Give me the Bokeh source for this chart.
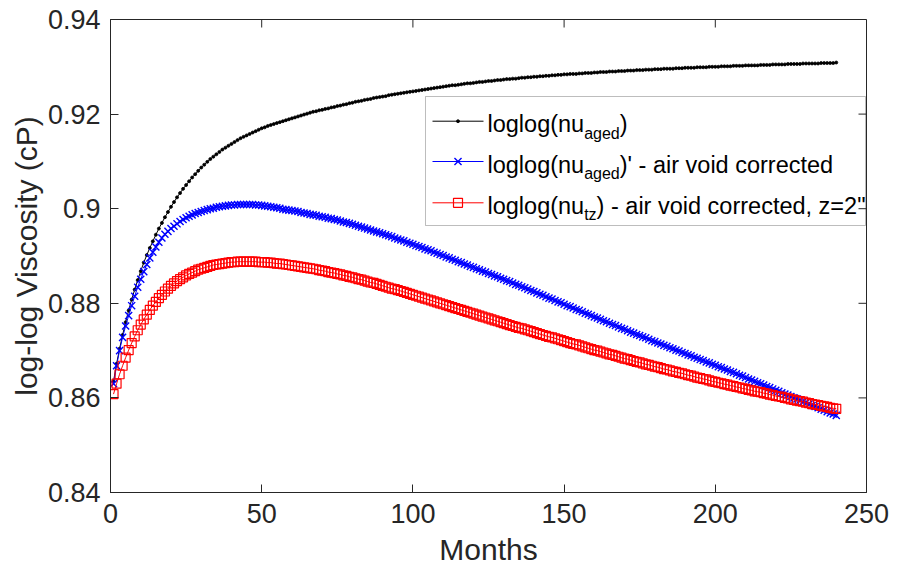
from bokeh.plotting import figure
from bokeh.models import Range1d, FixedTicker, Label, BoxAnnotation
from bokeh.embed import file_html
from bokeh.resources import INLINE

# ---------------- data ----------------
months = list(range(1, 241))

loglog_aged = [
    0.8635, 0.8672, 0.8704, 0.8733, 0.8760, 0.8785, 0.8808, 0.8829, 0.8849, 0.8868,
    0.8886, 0.8902, 0.8917, 0.8931, 0.8945, 0.8958, 0.8970, 0.8982, 0.8993, 0.9004,
    0.9014, 0.9024, 0.9033, 0.9042, 0.9050, 0.9058, 0.9066, 0.9073, 0.9080, 0.9087,
    0.9093, 0.9099, 0.9105, 0.9110, 0.9115, 0.9120, 0.9125, 0.9129, 0.9133, 0.9137,
    0.9141, 0.9145, 0.9149, 0.9152, 0.9155, 0.9158, 0.9161, 0.9164, 0.9167, 0.9170,
    0.9172, 0.9175, 0.9177, 0.9179, 0.9181, 0.9183, 0.9185, 0.9187, 0.9189, 0.9191,
    0.9193, 0.9195, 0.9197, 0.9199, 0.9201, 0.9203, 0.9205, 0.9206, 0.9208, 0.9209,
    0.9211, 0.9212, 0.9214, 0.9215, 0.9217, 0.9218, 0.9220, 0.9221, 0.9223, 0.9224,
    0.9226, 0.9227, 0.9228, 0.9230, 0.9231, 0.9232, 0.9234, 0.9235, 0.9236, 0.9237,
    0.9238, 0.9240, 0.9241, 0.9242, 0.9243, 0.9244, 0.9245, 0.9246, 0.9247, 0.9248,
    0.9249, 0.9250, 0.9251, 0.9252, 0.9253, 0.9254, 0.9255, 0.9256, 0.9257, 0.9258,
    0.9259, 0.9260, 0.9261, 0.9261, 0.9262, 0.9263, 0.9264, 0.9265, 0.9265, 0.9266,
    0.9267, 0.9268, 0.9268, 0.9269, 0.9270, 0.9270, 0.9271, 0.9272, 0.9272, 0.9273,
    0.9274, 0.9274, 0.9275, 0.9275, 0.9276, 0.9277, 0.9277, 0.9278, 0.9278, 0.9279,
    0.9279, 0.9280, 0.9280, 0.9281, 0.9281, 0.9282, 0.9282, 0.9283, 0.9283, 0.9284,
    0.9284, 0.9285, 0.9285, 0.9285, 0.9286, 0.9286, 0.9287, 0.9287, 0.9287, 0.9288,
    0.9288, 0.9289, 0.9289, 0.9289, 0.9290, 0.9290, 0.9290, 0.9291, 0.9291, 0.9291,
    0.9292, 0.9292, 0.9292, 0.9293, 0.9293, 0.9293, 0.9294, 0.9294, 0.9294, 0.9295,
    0.9295, 0.9295, 0.9296, 0.9296, 0.9296, 0.9296, 0.9297, 0.9297, 0.9297, 0.9298,
    0.9298, 0.9298, 0.9298, 0.9299, 0.9299, 0.9299, 0.9299, 0.9300, 0.9300, 0.9300,
    0.9300, 0.9301, 0.9301, 0.9301, 0.9301, 0.9302, 0.9302, 0.9302, 0.9302, 0.9303,
    0.9303, 0.9303, 0.9303, 0.9303, 0.9304, 0.9304, 0.9304, 0.9304, 0.9305, 0.9305,
    0.9305, 0.9305, 0.9305, 0.9306, 0.9306, 0.9306, 0.9306, 0.9306, 0.9307, 0.9307,
    0.9307, 0.9307, 0.9307, 0.9307, 0.9308, 0.9308, 0.9308, 0.9308, 0.9308, 0.9309,
]

loglog_aged_corr = [
    0.8630, 0.8668, 0.8700, 0.8728, 0.8752, 0.8774, 0.8795, 0.8815, 0.8834, 0.8851,
    0.8867, 0.8882, 0.8896, 0.8908, 0.8919, 0.8929, 0.8938, 0.8946, 0.8952, 0.8958,
    0.8963, 0.8968, 0.8973, 0.8977, 0.8981, 0.8984, 0.8987, 0.8990, 0.8992, 0.8994,
    0.8996, 0.8998, 0.9000, 0.9001, 0.9003, 0.9004, 0.9005, 0.9006, 0.9007, 0.9008,
    0.9008, 0.9009, 0.9009, 0.9009, 0.9009, 0.9009, 0.9009, 0.9008, 0.9008, 0.9007,
    0.9006, 0.9005, 0.9004, 0.9003, 0.9002, 0.9001, 0.8999, 0.8998, 0.8997, 0.8996,
    0.8995, 0.8994, 0.8992, 0.8991, 0.8990, 0.8988, 0.8987, 0.8986, 0.8984, 0.8983,
    0.8982, 0.8980, 0.8979, 0.8977, 0.8976, 0.8974, 0.8972, 0.8971, 0.8969, 0.8967,
    0.8965, 0.8963, 0.8961, 0.8959, 0.8957, 0.8955, 0.8953, 0.8951, 0.8949, 0.8947,
    0.8945, 0.8943, 0.8941, 0.8938, 0.8936, 0.8934, 0.8932, 0.8929, 0.8927, 0.8925,
    0.8922, 0.8920, 0.8918, 0.8915, 0.8913, 0.8911, 0.8908, 0.8906, 0.8903, 0.8901,
    0.8898, 0.8896, 0.8893, 0.8891, 0.8888, 0.8886, 0.8883, 0.8881, 0.8878, 0.8876,
    0.8873, 0.8871, 0.8868, 0.8866, 0.8863, 0.8861, 0.8858, 0.8856, 0.8853, 0.8851,
    0.8848, 0.8846, 0.8843, 0.8840, 0.8838, 0.8835, 0.8833, 0.8830, 0.8827, 0.8825,
    0.8822, 0.8819, 0.8817, 0.8814, 0.8811, 0.8809, 0.8806, 0.8803, 0.8801, 0.8798,
    0.8795, 0.8793, 0.8790, 0.8787, 0.8785, 0.8782, 0.8779, 0.8777, 0.8774, 0.8771,
    0.8769, 0.8766, 0.8763, 0.8761, 0.8758, 0.8755, 0.8753, 0.8750, 0.8747, 0.8745,
    0.8742, 0.8739, 0.8737, 0.8734, 0.8732, 0.8729, 0.8727, 0.8724, 0.8721, 0.8719,
    0.8716, 0.8714, 0.8711, 0.8709, 0.8706, 0.8704, 0.8701, 0.8699, 0.8696, 0.8694,
    0.8691, 0.8689, 0.8686, 0.8684, 0.8681, 0.8679, 0.8676, 0.8674, 0.8671, 0.8669,
    0.8666, 0.8664, 0.8661, 0.8659, 0.8656, 0.8654, 0.8651, 0.8648, 0.8646, 0.8643,
    0.8640, 0.8638, 0.8635, 0.8632, 0.8630, 0.8627, 0.8624, 0.8622, 0.8619, 0.8616,
    0.8614, 0.8611, 0.8608, 0.8606, 0.8603, 0.8600, 0.8598, 0.8595, 0.8592, 0.8590,
    0.8587, 0.8584, 0.8582, 0.8579, 0.8576, 0.8574, 0.8571, 0.8568, 0.8566, 0.8563,
]

loglog_tz = [
    0.8608, 0.8630, 0.8650, 0.8668, 0.8685, 0.8701, 0.8716, 0.8730, 0.8743, 0.8755,
    0.8766, 0.8776, 0.8786, 0.8795, 0.8803, 0.8811, 0.8818, 0.8825, 0.8831, 0.8837,
    0.8842, 0.8847, 0.8851, 0.8855, 0.8859, 0.8862, 0.8865, 0.8868, 0.8871, 0.8873,
    0.8875, 0.8877, 0.8879, 0.8881, 0.8882, 0.8883, 0.8884, 0.8885, 0.8886, 0.8887,
    0.8887, 0.8888, 0.8888, 0.8888, 0.8888, 0.8888, 0.8888, 0.8888, 0.8887, 0.8887,
    0.8887, 0.8886, 0.8886, 0.8885, 0.8884, 0.8884, 0.8883, 0.8882, 0.8881, 0.8880,
    0.8879, 0.8878, 0.8877, 0.8876, 0.8875, 0.8874, 0.8873, 0.8872, 0.8870, 0.8869,
    0.8868, 0.8866, 0.8865, 0.8864, 0.8862, 0.8861, 0.8859, 0.8858, 0.8856, 0.8855,
    0.8853, 0.8851, 0.8850, 0.8848, 0.8846, 0.8844, 0.8843, 0.8841, 0.8839, 0.8837,
    0.8835, 0.8833, 0.8831, 0.8830, 0.8828, 0.8826, 0.8824, 0.8822, 0.8820, 0.8818,
    0.8816, 0.8814, 0.8812, 0.8810, 0.8808, 0.8806, 0.8804, 0.8802, 0.8800, 0.8798,
    0.8796, 0.8794, 0.8792, 0.8790, 0.8788, 0.8786, 0.8784, 0.8782, 0.8780, 0.8778,
    0.8776, 0.8774, 0.8772, 0.8770, 0.8768, 0.8766, 0.8764, 0.8762, 0.8760, 0.8758,
    0.8756, 0.8754, 0.8752, 0.8750, 0.8748, 0.8747, 0.8745, 0.8743, 0.8741, 0.8739,
    0.8737, 0.8735, 0.8733, 0.8731, 0.8729, 0.8728, 0.8726, 0.8724, 0.8722, 0.8720,
    0.8718, 0.8716, 0.8714, 0.8713, 0.8711, 0.8709, 0.8707, 0.8705, 0.8703, 0.8701,
    0.8700, 0.8698, 0.8696, 0.8694, 0.8692, 0.8691, 0.8689, 0.8687, 0.8685, 0.8683,
    0.8682, 0.8680, 0.8678, 0.8676, 0.8675, 0.8673, 0.8671, 0.8670, 0.8668, 0.8666,
    0.8665, 0.8663, 0.8661, 0.8660, 0.8658, 0.8656, 0.8655, 0.8653, 0.8652, 0.8650,
    0.8648, 0.8647, 0.8645, 0.8643, 0.8642, 0.8640, 0.8639, 0.8637, 0.8635, 0.8634,
    0.8632, 0.8631, 0.8629, 0.8628, 0.8626, 0.8625, 0.8623, 0.8622, 0.8620, 0.8619,
    0.8617, 0.8616, 0.8614, 0.8613, 0.8612, 0.8610, 0.8609, 0.8607, 0.8606, 0.8604,
    0.8603, 0.8602, 0.8600, 0.8599, 0.8597, 0.8596, 0.8594, 0.8593, 0.8592, 0.8590,
    0.8589, 0.8587, 0.8586, 0.8585, 0.8583, 0.8582, 0.8581, 0.8579, 0.8578, 0.8577,
]

x_ticks = [0, 50, 100, 150, 200, 250]
y_ticks = [0.84, 0.86, 0.88, 0.90, 0.92, 0.94]
y_tick_labels = ["0.84", "0.86", "0.88", "0.9", "0.92", "0.94"]
x_label = "Months"
y_label = "log-log Viscosity (cP)"
# legend entries: (main text, subscript, text after subscript)
legend_entries = [
    ("loglog(nu", "aged", ")"),
    ("loglog(nu", "aged", ")' - air void corrected"),
    ("loglog(nu", "tz", ") - air void corrected, z=2\""),
]

# ---------------- layout / style ----------------
W, H = 904, 575
BL, BR, BT, BB = 110, 38, 19, 83
X0, X1, Y0, Y1 = 0, 250, 0.84, 0.94
FONT = "Liberation Sans"
AX = "#262626"
TICK_PX = 8

p = figure(width=W, height=H, output_backend="svg", toolbar_location=None,
           x_range=Range1d(X0, X1), y_range=Range1d(Y0, Y1),
           min_border_left=BL, min_border_right=BR, min_border_top=BT, min_border_bottom=BB,
           x_axis_label=x_label, y_axis_label=y_label)
p.grid.visible = False
p.outline_line_color = AX
p.outline_line_width = 1
p.background_fill_color = "white"
p.border_fill_color = "white"


def style_axis(ax, ticks):
    ax.ticker = FixedTicker(ticks=ticks)
    ax.axis_line_color = AX
    ax.major_tick_line_color = AX
    ax.major_tick_in = TICK_PX
    ax.major_tick_out = 0
    ax.minor_tick_line_color = None
    ax.major_label_text_font = FONT
    ax.major_label_text_color = AX
    ax.major_label_text_font_size = "27px"
    ax.axis_label_text_font = FONT
    ax.axis_label_text_font_size = "30px"
    ax.axis_label_text_font_style = "normal"
    ax.axis_label_text_color = AX


xa = p.xaxis[0]
ya = p.yaxis[0]
style_axis(xa, x_ticks)
style_axis(ya, y_ticks)
xa.major_label_standoff = 11
xa.axis_label_standoff = 7
ya.major_label_standoff = 10
ya.axis_label_standoff = 2
ya.major_label_overrides = {t: s for t, s in zip(y_ticks, y_tick_labels)}

FW = W - BL - BR
FH = H - BT - BB
tick_dx = TICK_PX / FW * (X1 - X0)
tick_dy = TICK_PX / FH * (Y1 - Y0)
# inward ticks on the top and right edges of the box (MATLAB "box on")
p.segment(x0=x_ticks, y0=[Y1] * len(x_ticks), x1=x_ticks, y1=[Y1 - tick_dy] * len(x_ticks),
          line_color=AX, line_width=1)
p.segment(x0=[X1] * len(y_ticks), y0=y_ticks, x1=[X1 - tick_dx] * len(y_ticks), y1=y_ticks,
          line_color=AX, line_width=1)

series = [
    dict(y=loglog_aged, color="#000000", marker="circle", size=3, lw=0.8, fill=True),
    dict(y=loglog_aged_corr, color="#0000ff", marker="x", size=10, lw=1.4, fill=False),
    dict(y=loglog_tz, color="#ff0000", marker="square", size=9, lw=1.2, fill=False),
]
for s in series:
    p.line(months, s["y"], line_color=s["color"], line_width=1)
    p.scatter(months, s["y"], marker=s["marker"], size=s["size"],
              line_color=s["color"], line_width=s["lw"],
              fill_color=s["color"] if s["fill"] else None)


# ---------------- legend (drawn manually to support subscripts) ----------------
def dx(px):
    return X0 + (px - BL) / FW * (X1 - X0)


def dy(py):
    return Y0 + (H - BB - py) / FH * (Y1 - Y0)


ARIAL = {' ': 278, '"': 355, "'": 191, '(': 333, ')': 333, ',': 278, '-': 333,
         '.': 278, '=': 584, '2': 556, 'a': 556, 'c': 500, 'd': 556, 'e': 556,
         'g': 556, 'i': 222, 'l': 222, 'n': 556, 'o': 556, 'r': 333, 's': 500,
         't': 278, 'u': 556, 'v': 500, 'z': 500}


def tw(text, size):
    return sum(ARIAL.get(c, 556) for c in text) * size / 1000.0


LEG_L, LEG_R, LEG_T, LEG_B = 425, 865, 96, 225
ROW_Y = [120.7, 161.0, 202.3]
SAMPLE_X0, SAMPLE_X1, SAMPLE_XM, TEXT_X = 432, 483, 457.5, 487
MAIN_FS, SUB_FS = 23.5, 16

p.add_layout(BoxAnnotation(left=dx(LEG_L), right=dx(LEG_R), top=dy(LEG_T), bottom=dy(LEG_B),
                           fill_color="white", fill_alpha=1.0, line_color=AX, line_width=1,
                           level="underlay"))

for (main, sub, rest), s, ry in zip(legend_entries, series, ROW_Y):
    p.line([dx(SAMPLE_X0), dx(SAMPLE_X1)], [dy(ry), dy(ry)], line_color=s["color"], line_width=1)
    p.scatter([dx(SAMPLE_XM)], [dy(ry)], marker=s["marker"], size=s["size"],
              line_color=s["color"], line_width=s["lw"],
              fill_color=s["color"] if s["fill"] else None)
    x = TEXT_X
    for txt, fs, off in ((main, MAIN_FS, 3.0), (sub, SUB_FS, 12.0), (rest, MAIN_FS, 3.0)):
        p.add_layout(Label(x=dx(x), y=dy(ry + off), text=txt, text_font=FONT,
                           text_font_size=f"{fs}px", text_color="#000000",
                           text_align="left", text_baseline="alphabetic"))
        x += tw(txt, fs)

open("out.html", "w").write(file_html(p, INLINE))
